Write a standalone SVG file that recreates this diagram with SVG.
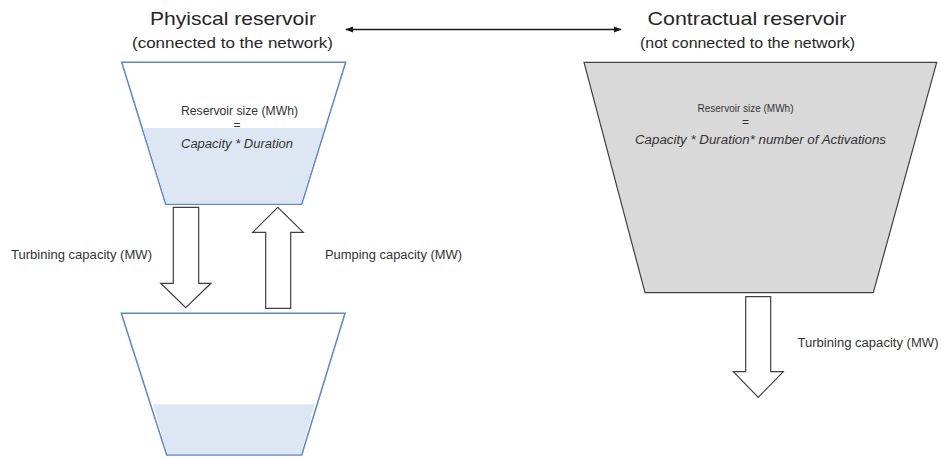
<svg xmlns="http://www.w3.org/2000/svg" width="941" height="458" viewBox="0 0 941 458">
<style>
.title{font-family:"Liberation Sans",Arial,sans-serif;font-size:19px;fill:#262626;text-anchor:middle}
.sub{font-family:"Liberation Sans",Arial,sans-serif;font-size:14.5px;fill:#262626;text-anchor:middle}
.lbl{font-family:"Liberation Sans",Arial,sans-serif;font-size:12px;fill:#333333}
.ctr{text-anchor:middle}
.it{font-style:italic}
.res{fill:#ffffff;stroke:#5a86d2;stroke-width:1.5}
.water{fill:#dde7f3;stroke:none}
.gray{fill:#d9d9d9;stroke:#404040;stroke-width:1.2}
.blk{fill:#ffffff;stroke:#404040;stroke-width:1.2;stroke-linejoin:miter}
.conn{stroke:#1a1a1a;stroke-width:1.5;fill:none}
</style>
<defs>
<marker id="ah" viewBox="0 0 10 10" refX="9" refY="5" markerWidth="8" markerHeight="8" orient="auto-start-reverse" markerUnits="userSpaceOnUse">
<path d="M0,1 L10,5 L0,9 z" fill="#1a1a1a"/>
</marker>
</defs>
<rect width="941" height="458" fill="#ffffff"/>

<g id="title-physical">
<text class="title" x="233" y="25" textLength="166" lengthAdjust="spacingAndGlyphs">Phyiscal reservoir</text>
<text class="sub" x="232.5" y="48" textLength="201" lengthAdjust="spacingAndGlyphs">(connected to the network)</text>
</g>
<g id="title-contractual">
<text class="title" x="747" y="25" textLength="199" lengthAdjust="spacingAndGlyphs">Contractual reservoir</text>
<text class="sub" x="747.5" y="48" textLength="215" lengthAdjust="spacingAndGlyphs">(not connected to the network)</text>
</g>

<g id="upper-reservoir">
<polygon class="res" points="121.7,62.3 345.7,62.3 301.7,204.3 165.7,204.3"/>
<polygon class="water" points="143,128 324,128 301,203.5 166.5,203.5"/>
<text class="lbl ctr" x="239.5" y="115" textLength="117" lengthAdjust="spacingAndGlyphs">Reservoir size (MWh)</text>
<text class="lbl ctr" x="237" y="129">=</text>
<text class="lbl ctr it" x="237" y="148" textLength="112" lengthAdjust="spacingAndGlyphs">Capacity * Duration</text>
</g>

<g id="lower-reservoir">
<polygon class="res" points="121.3,313.3 345,313.3 301.7,455 166.7,455"/>
<polygon class="water" points="153,404.3 314.5,404.3 301,454.3 167.5,454.3"/>
</g>

<g id="contractual-reservoir">
<polygon class="gray" points="584,62.3 936.7,62.3 873.3,292.7 645,292.7"/>
<text class="lbl ctr" x="745.5" y="112" style="font-size:11px" textLength="96" lengthAdjust="spacingAndGlyphs">Reservoir size (MWh)</text>
<text class="lbl ctr" x="745.5" y="126">=</text>
<text class="lbl ctr it" x="760.5" y="144" textLength="251" lengthAdjust="spacingAndGlyphs">Capacity * Duration* number of Activations</text>
</g>

<g id="connectors">
<line class="conn" x1="346" y1="29.5" x2="621" y2="29.5" marker-start="url(#ah)" marker-end="url(#ah)"/>
<polygon id="turbine-arrow" class="blk" points="173.3,207.3 198.7,207.3 198.7,283.3 211,283.3 185.8,307.7 160.7,283.3 173.3,283.3"/>
<polygon id="pump-arrow" class="blk" points="265.7,308.3 290.7,308.3 290.7,232.3 303.3,232.3 277.8,207.3 252.7,232.3 265.7,232.3"/>
<polygon id="turbine-arrow-2" class="blk" points="745.7,296.7 770.7,296.7 770.7,371.7 783.3,371.7 758.3,397.3 733.3,371.7 745.7,371.7"/>
</g>

<g id="labels">
<text class="lbl" x="11" y="259" textLength="141" lengthAdjust="spacingAndGlyphs">Turbining capacity (MW)</text>
<text class="lbl" x="325" y="259" textLength="137" lengthAdjust="spacingAndGlyphs">Pumping capacity (MW)</text>
<text class="lbl" x="797.5" y="347" textLength="141" lengthAdjust="spacingAndGlyphs">Turbining capacity (MW)</text>
</g>
</svg>
